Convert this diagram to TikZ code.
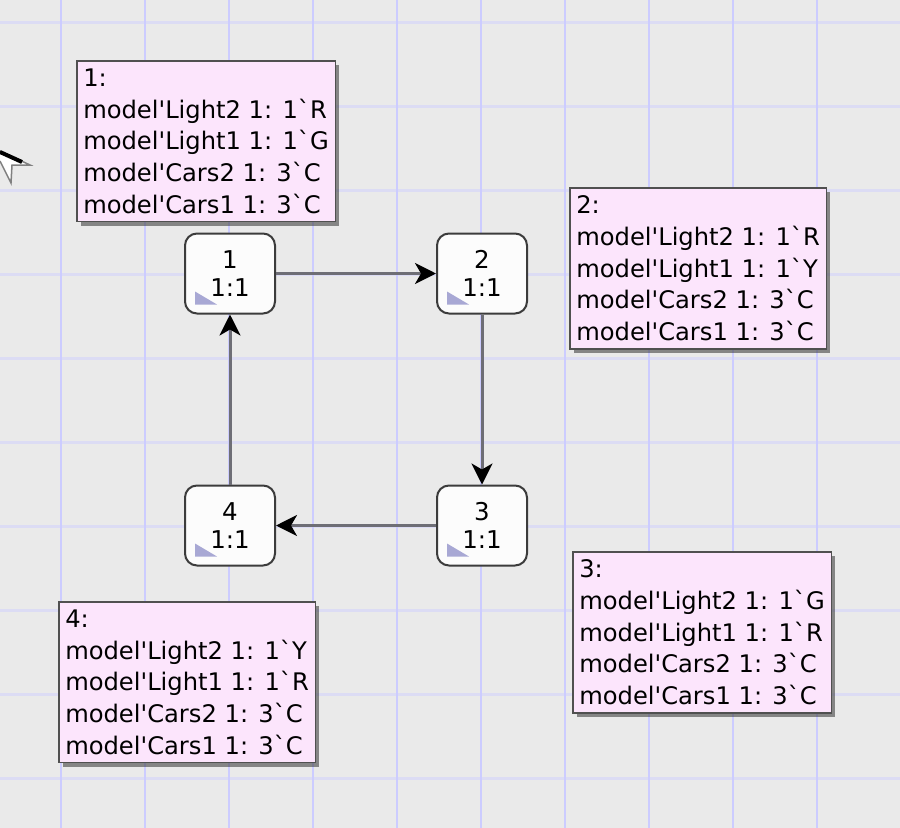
\documentclass[tikz,border=0pt]{standalone}
\usepackage{fontspec}
\setmainfont{DejaVu Sans}[Ligatures=TeXOff]
\usepackage{xcolor}
\usetikzlibrary{arrows.meta,shadows,positioning}
\definecolor{canvas}{HTML}{EAEAEA}
\definecolor{gridv}{HTML}{CCCCFF}
\definecolor{gridh}{HTML}{DCDCF4}
\definecolor{boxpink}{HTML}{FCE5FC}
\definecolor{boxline}{HTML}{505050}
\definecolor{stline}{HTML}{3C3C3C}
\definecolor{arcgray}{HTML}{6E6E76}
\definecolor{tricol}{HTML}{A8A8D4}

\begin{document}
\begin{tikzpicture}[x=1bp,y=-1bp,
    state/.style={draw=stline,fill=white!99!black,line width=2bp,rounded corners=12bp,
      minimum width=90bp,minimum height=80bp,inner sep=0pt,align=center,
      font=\fontsize{24.5bp}{28bp}\selectfont},
    info/.style={draw=boxline,fill=boxpink,line width=1.5bp,anchor=north west,
      inner xsep=6.5bp,inner ysep=8bp,align=left,
      font=\fontsize{24.2bp}{31.7bp}\selectfont,
      drop shadow={shadow xshift=4bp,shadow yshift=-4bp,opacity=0.55,fill=black!80}},
    arc/.style={draw=arcgray,line width=3bp,
      -{Stealth[length=21bp,width=21bp,inset=6bp,black]}}]
    \def\tri#1{\fill[tricol] ([shift={(11,-10)}]#1.south west) -- ++(22,0) -- ++(-22,-13) -- cycle;}
    \useasboundingbox (0,0) rectangle (900,828);
    \fill[canvas] (0,0) rectangle (900,828);
    \foreach \y in {22,106,...,778} {
      \draw[gridh,line width=3bp] (0,\y) -- (900,\y);
    }
    \foreach \x in {61,145,...,817} {
      \draw[gridv,line width=2bp] (\x,0) -- (\x,828);
    }
    % pointer at the left edge
    \filldraw[fill=white,draw=gray,line width=1.5bp] (0,151) -- (30,165) -- (12,165) -- (11,183) -- (0,161);
    \draw[black,line width=4bp] (0,152) -- (22,162);

    \node[state] (st1) at (230,273.5) {1\\1:1};
    \node[state] (st2) at (482,273.5) {2\\1:1};
    \node[state] (st3) at (482,525.5) {3\\1:1};
    \node[state] (st4) at (230,525.5) {4\\1:1};
    \foreach \s in {st1,st2,st3,st4} {\tri{\s}}

    \draw[arc] (st1.east) -- (st2.west);
    \draw[arc] (st2.south) -- (st3.north);
    \draw[arc] (st3.west) -- (st4.east);
    \draw[arc] (st4.north) -- (st1.south);

    \node[info] (info1) at (76,60) {1:\\model'Light2 1: 1`R\\model'Light1 1: 1`G\\model'Cars2 1: 3`C\\model'Cars1 1: 3`C};
    \node[info] (info2) at (569,187) {2:\\model'Light2 1: 1`R\\model'Light1 1: 1`Y\\model'Cars2 1: 3`C\\model'Cars1 1: 3`C};
    \node[info] (info3) at (572,551) {3:\\model'Light2 1: 1`G\\model'Light1 1: 1`R\\model'Cars2 1: 3`C\\model'Cars1 1: 3`C};
    \node[info] (info4) at (58,601) {4:\\model'Light2 1: 1`Y\\model'Light1 1: 1`R\\model'Cars2 1: 3`C\\model'Cars1 1: 3`C};
\end{tikzpicture}
\end{document}
